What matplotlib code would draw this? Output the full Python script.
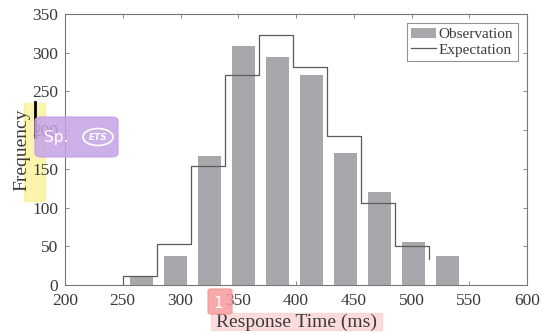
import numpy as np
import matplotlib.pyplot as plt
from matplotlib.patches import Rectangle, FancyBboxPatch, Ellipse

# Observed histogram (bar centres in ms, counts)
obs_centers = [266, 295.5, 325, 354.5, 384, 413.5, 443, 472.5, 502, 531.5]
obs_counts = [10, 37, 166, 309, 295, 271, 170, 120, 55, 37]

# Expected counts drawn as stairs (left edges of each step, value)
exp_edges = [250, 279.5, 309, 338.5, 368, 397.5, 427, 456.5, 486, 515.5]
exp_counts = [11, 53, 154, 271, 323, 282, 192, 106, 50, 34]

x_ticks = [200, 250, 300, 350, 400, 450, 500, 550, 600]
y_ticks = [0, 50, 100, 150, 200, 250, 300, 350]

plt.rcParams["font.family"] = ["Liberation Serif", "DejaVu Serif"]

fig = plt.figure(figsize=(5.42, 3.34), dpi=100)
ax = fig.add_axes([65 / 542, 1 - 285 / 334, 462 / 542, 271 / 334])

bars = ax.bar(obs_centers, obs_counts, width=20, color="#a6a8ab",
              edgecolor="none", zorder=2)

# MATLAB-style stairs: horizontal segments, last point has no horizontal run
sx, sy = [exp_edges[0]], [0]
for i in range(len(exp_edges)):
    sx.append(exp_edges[i])
    sy.append(exp_counts[i])
    if i + 1 < len(exp_edges):
        sx.append(exp_edges[i + 1])
        sy.append(exp_counts[i])
line, = ax.plot(sx, sy, color="#5a5a5a", lw=0.9, zorder=3)

ax.set_xlim(200, 600)
ax.set_ylim(0, 350)
ax.set_xticks(x_ticks)
ax.set_yticks(y_ticks)
ax.tick_params(direction="in", top=True, right=True, length=3, width=0.6,
               colors="#777777", labelcolor="#3a3a3a", labelsize=12.5)
ax.tick_params(axis="x", pad=6)
ax.tick_params(axis="y", pad=5)
for s in ax.spines.values():
    s.set_color("#777777")
    s.set_linewidth(0.8)

ax.set_xlabel("Response Time (ms)", fontsize=14, color="#3a3a3a", labelpad=3)
ax.set_ylabel("Frequency", fontsize=14, color="#3a3a3a", labelpad=1)

leg = ax.legend([bars, line], ["Observation", "Expectation"], loc="upper right",
                fontsize=11, frameon=True, fancybox=False,
                handlelength=1.6, handletextpad=0.2, borderpad=0.3,
                labelspacing=0.1, borderaxespad=0.6)
leg.get_frame().set_edgecolor("#777777")
leg.get_frame().set_linewidth(0.8)
for t in leg.get_texts():
    t.set_color("#3a3a3a")


# overlay marks seen on the reference picture (pixel coords, top-left origin)
def px(x, y):
    return x / 542, 1 - y / 334


W, H = 542, 334
fig.patches.append(Rectangle(px(24, 201), 21 / W, 98 / H, transform=fig.transFigure,
                             color="#f8f08a", alpha=0.7, zorder=-1))
fig.patches.append(Rectangle(px(211, 330), 171 / W, 17 / H, transform=fig.transFigure,
                             color="#fbd3d3", alpha=0.8, zorder=-1))
fig.add_artist(plt.Line2D([34.5 / W, 34.5 / W], [1 - 102 / H, 1 - 137 / H],
                          transform=fig.transFigure, color="black", lw=2))
fig.patches.append(FancyBboxPatch(px(35, 157), 83 / W, 40 / H,
                                  boxstyle="round,pad=0,rounding_size=0.012",
                                  transform=fig.transFigure, color="#c6a3e6",
                                  alpha=0.85, zorder=5))
fig.text(44 / W, 1 - 137 / H, "Sp.", color="white", fontsize=11,
         family="DejaVu Sans", va="center", zorder=6)
fig.patches.append(Ellipse(px(98, 137), 30 / W, 17 / H, transform=fig.transFigure,
                           fill=False, ec="white", lw=1.2, zorder=6))
fig.text(98 / W, 1 - 137 / H, "ETS", color="white", fontsize=6.5,
         family="DejaVu Sans", weight="bold", style="italic",
         ha="center", va="center", zorder=6)
fig.patches.append(FancyBboxPatch(px(208, 314), 24 / W, 25 / H,
                                  boxstyle="round,pad=0,rounding_size=0.006",
                                  transform=fig.transFigure, color="#f79a9a",
                                  alpha=0.85, zorder=5))
fig.text(218 / W, 1 - 303 / H, "1", color="white", fontsize=11,
         family="DejaVu Sans", ha="center", va="center", zorder=6)

fig.savefig("out.png", dpi=100)
